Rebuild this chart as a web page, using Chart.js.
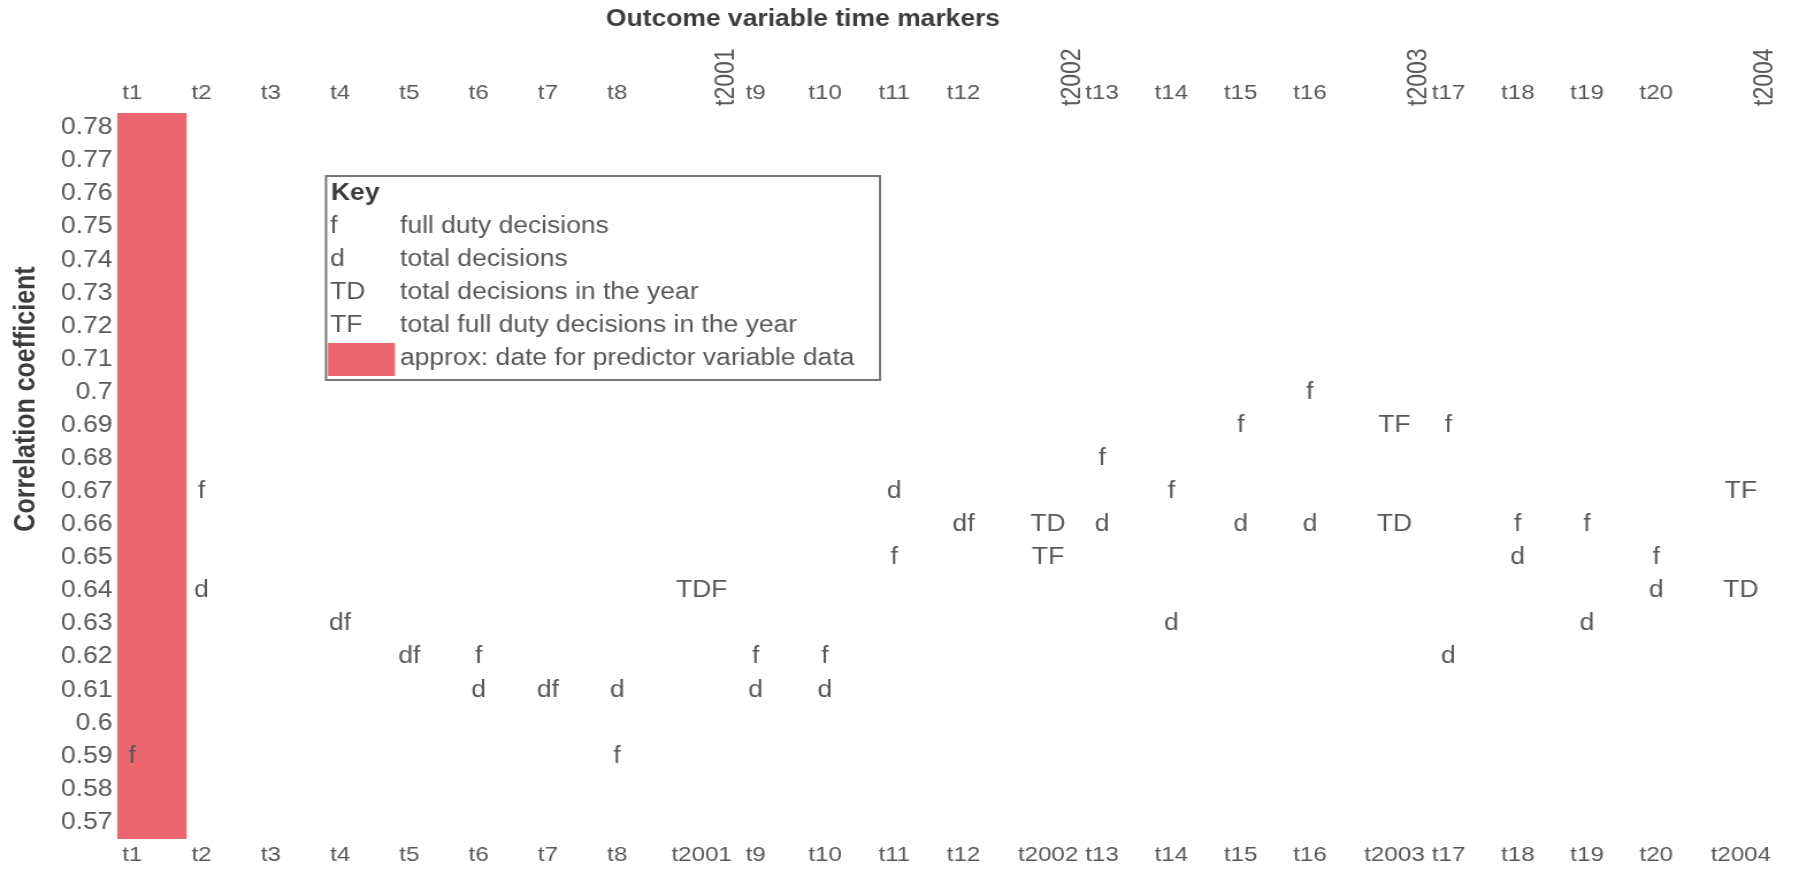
<!DOCTYPE html>
<html>
<head>
<meta charset="utf-8">
<title>Outcome variable time markers</title>
<script src="https://cdn.jsdelivr.net/npm/chart.js@4.4.1/dist/chart.umd.min.js"></script>
<style>
  html, body { margin: 0; padding: 0; background: #ffffff; overflow: hidden; }
  #wrap { position: absolute; left: 0; top: 0; transform-origin: 0 0; }
  canvas { display: block; }
</style>
</head>
<body>
<div id="wrap"><canvas id="chart"></canvas></div>
<script>
// ---- Time axis: quarterly markers with the yearly totals placed between them ----
const markerLabels = ['t1','t2','t3','t4','t5','t6','t7','t8','t2001','t9','t10','t11','t12','t2002',
                      't13','t14','t15','t16','t2003','t17','t18','t19','t20','t2004'];
const markerPositions = [1,2,3,4,5,6,7,8,9.22,10,11,12,13,14.22,15,16,17,18,19.22,20,21,22,23,24.22];

// ---- Quarterly correlation coefficients ----
const quarterMarkers = ['t1','t2','t3','t4','t5','t6','t7','t8','t9','t10',
                        't11','t12','t13','t14','t15','t16','t17','t18','t19','t20'];
const fullDuty       = [0.59,0.67,null,0.63,0.62,0.62,0.61,0.59,0.62,0.62,
                        0.65,0.66,0.68,0.67,0.69,0.70,0.69,0.66,0.66,0.65];
const totalDecisions = [null,0.64,null,0.63,0.62,0.61,0.61,0.61,0.61,0.61,
                        0.67,0.66,0.66,0.63,0.66,0.66,0.62,0.65,0.63,0.64];

// ---- Yearly totals ----
const yearMarkers        = ['t2001','t2002','t2003','t2004'];
const yearTotalDecisions = [0.64,0.66,0.66,0.64];
const yearTotalFullDuty  = [0.64,0.65,0.69,0.67];

// ---- Value axis ----
const yTickValues = [0.57,0.58,0.59,0.60,0.61,0.62,0.63,0.64,0.65,0.66,0.67,
                     0.68,0.69,0.70,0.71,0.72,0.73,0.74,0.75,0.76,0.77,0.78];
const yRange = [0.565, 0.7845];
const xRange = [0.78, 24.93];

// Period covered by the predictor variable data
const predictorWindow = [0.78, 1.79];

// Key entries
const keyEntries = [
  ['f',  'full duty decisions'],
  ['d',  'total decisions'],
  ['TD', 'total decisions in the year'],
  ['TF', 'total full duty decisions in the year'],
  [null, 'approx: date for predictor variable data']
];

// ---- Page geometry ----
const PAGE_W = 1799, PAGE_H = 877;
const SX = 1.15;                       // horizontal stretch of the drawing
const CW = Math.round(PAGE_W / SX);
const sx = CW / PAGE_W;                // page px -> canvas px (horizontal)

const FONT = "'Liberation Sans', Arial, Helvetica, sans-serif";
const TEXT = '#585858';
const TITLE = '#3c3c3c';
const BAND = '#ec6670';

const posOf = label => markerPositions[markerLabels.indexOf(label)];

// Group the marks by the letter code printed at each point
const groups = {};
function addMark(code, x, y) {
  (groups[code] = groups[code] || []).push({ x, y });
}
quarterMarkers.forEach((q, i) => {
  const x = posOf(q), f = fullDuty[i], d = totalDecisions[i];
  if (f != null && d != null && f === d) { addMark('df', x, f); return; }
  if (f != null) addMark('f', x, f);
  if (d != null) addMark('d', x, d);
});
yearMarkers.forEach((yr, i) => {
  const x = posOf(yr), td = yearTotalDecisions[i], tf = yearTotalFullDuty[i];
  if (td === tf) { addMark('TDF', x, td); return; }
  addMark('TD', x, td);
  addMark('TF', x, tf);
});

const markDatasets = Object.keys(groups).map(code => ({
  type: 'scatter',
  label: code,
  markText: code,
  data: groups[code],
  pointRadius: 0,
  pointHoverRadius: 0,
  xAxisID: 'x',
  yAxisID: 'y'
}));

const bandDataset = {
  type: 'line',
  label: 'predictor window',
  data: [{ x: predictorWindow[0], y: yRange[1] }, { x: predictorWindow[1], y: yRange[1] }],
  borderColor: 'rgba(0,0,0,0)',
  borderWidth: 0,
  pointRadius: 0,
  backgroundColor: BAND,
  fill: { value: yRange[0] },
  xAxisID: 'x',
  yAxisID: 'y',
  order: 10
};

// Letter codes drawn at each data point
const markTextPlugin = {
  id: 'markText',
  afterDatasetsDraw(chart) {
    const ctx = chart.ctx;
    ctx.save();
    ctx.font = `23px ${FONT}`;
    ctx.fillStyle = TEXT;
    ctx.textAlign = 'center';
    ctx.textBaseline = 'middle';
    chart.data.datasets.forEach((ds, i) => {
      if (!ds.markText) return;
      chart.getDatasetMeta(i).data.forEach(pt => ctx.fillText(ds.markText, pt.x, pt.y));
    });
    ctx.restore();
  }
};

// Rotated year labels on the top axis, axis titles and the key box
const decorPlugin = {
  id: 'decor',
  afterDraw(chart) {
    const ctx = chart.ctx;
    const top = chart.scales.x2;
    ctx.save();

    // year markers on the top axis
    ctx.font = `23px ${FONT}`;
    ctx.fillStyle = TEXT;
    ctx.textAlign = 'left';
    ctx.textBaseline = 'middle';
    yearMarkers.forEach(yr => {
      const px = top.getPixelForValue(posOf(yr)) + 25 * sx;
      ctx.save();
      ctx.translate(px, 106);
      ctx.rotate(-Math.PI / 2);
      ctx.fillText(yr, 0, 0);
      ctx.restore();
    });

    // top axis title
    ctx.font = `bold 23px ${FONT}`;
    ctx.fillStyle = TITLE;
    ctx.textAlign = 'center';
    ctx.fillText('Outcome variable time markers', 803 * sx, 20);

    // value axis title
    ctx.save();
    ctx.translate(27 * sx, 399);
    ctx.rotate(-Math.PI / 2);
    ctx.font = `bold 25px ${FONT}`;
    ctx.fillText('Correlation coefficient', 0, 0);
    ctx.restore();

    // key box
    const bx = 326 * sx, by = 176, bw = 554 * sx, bh = 204;
    ctx.fillStyle = '#ffffff';
    ctx.fillRect(bx, by, bw, bh);
    ctx.strokeStyle = '#767676';
    ctx.lineWidth = 2;
    ctx.strokeRect(bx, by, bw, bh);

    ctx.textAlign = 'left';
    ctx.font = `bold 23px ${FONT}`;
    ctx.fillStyle = TITLE;
    ctx.fillText('Key', 331 * sx, 194);

    ctx.font = `23px ${FONT}`;
    ctx.fillStyle = TEXT;
    keyEntries.forEach(([code, desc], i) => {
      const ry = 227 + 33 * i;
      if (code) {
        ctx.fillText(code, 330 * sx, ry);
      } else {
        ctx.fillStyle = BAND;
        ctx.fillRect(328 * sx, ry - 16, 67 * sx, 33);
        ctx.fillStyle = TEXT;
      }
      ctx.fillText(desc, 400 * sx, ry);
    });

    ctx.restore();
  }
};

const canvas = document.getElementById('chart');
canvas.width = CW;
canvas.height = PAGE_H;
canvas.style.width = CW + 'px';
canvas.style.height = PAGE_H + 'px';
document.getElementById('wrap').style.transform = `scaleX(${PAGE_W / CW})`;

const isYear = label => yearMarkers.includes(label);

const baseX = {
  type: 'linear',
  min: xRange[0],
  max: xRange[1],
  grid: { display: false, drawTicks: false },
  border: { display: false },
  afterBuildTicks: s => { s.ticks = markerPositions.map(v => ({ value: v })); }
};

new Chart(canvas, {
  data: { datasets: [bandDataset, ...markDatasets] },
  options: {
    responsive: false,
    animation: false,
    devicePixelRatio: 1,
    layout: { padding: { left: 0, right: 9 * sx, top: 0, bottom: 0 } },
    plugins: {
      legend: { display: false },
      tooltip: { enabled: false },
      title: { display: false }
    },
    scales: {
      x: Object.assign({}, baseX, {
        position: 'bottom',
        ticks: {
          autoSkip: false, maxRotation: 0, minRotation: 0, padding: 4,
          color: TEXT, font: { family: FONT, size: 21 },
          callback: (v, i) => markerLabels[i]
        },
        afterFit: s => { s.height = 38; }
      }),
      x2: Object.assign({}, baseX, {
        position: 'top',
        ticks: {
          autoSkip: false, maxRotation: 0, minRotation: 0, padding: 7,
          color: TEXT, font: { family: FONT, size: 21 },
          callback: (v, i) => isYear(markerLabels[i]) ? '' : markerLabels[i]
        },
        afterFit: s => { s.height = 113; }
      }),
      y: {
        type: 'linear',
        position: 'left',
        min: yRange[0],
        max: yRange[1],
        grid: { display: false, drawTicks: false },
        border: { display: false },
        afterBuildTicks: s => { s.ticks = yTickValues.map(v => ({ value: v })); },
        ticks: {
          padding: 4,
          color: TEXT,
          font: { family: FONT, size: 23 },
          callback: v => String(parseFloat(Number(v).toFixed(2)))
        },
        afterFit: s => { s.width = 117 * sx; }
      }
    }
  },
  plugins: [markTextPlugin, decorPlugin]
});
</script>
</body>
</html>
